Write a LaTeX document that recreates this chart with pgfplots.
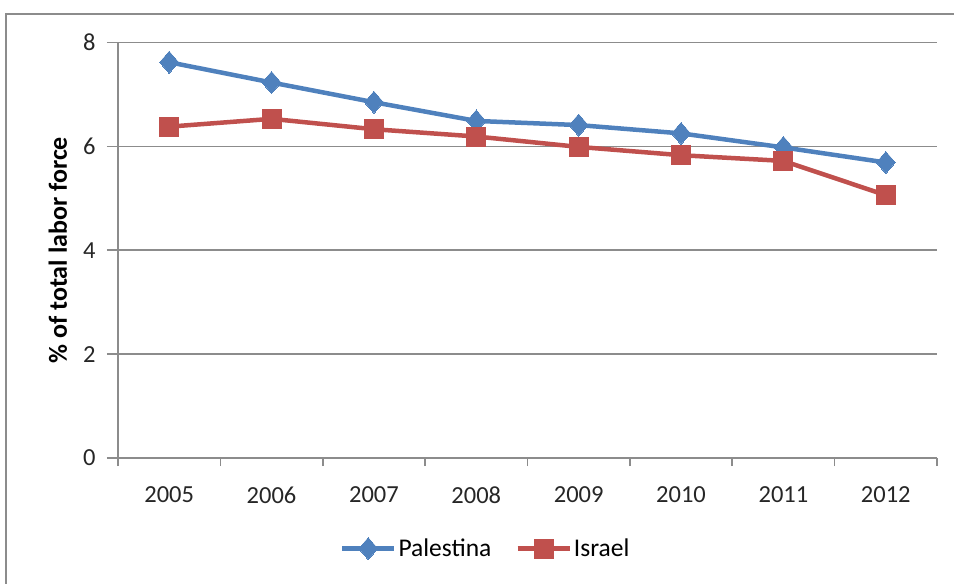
\documentclass[border=0pt]{standalone}
\usepackage{pgfplots}
\pgfplotsset{compat=1.18}
\usepackage{fontspec}
\setmainfont{Carlito}
\definecolor{pblue}{HTML}{4F81BD}
\definecolor{ired}{HTML}{C0504D}
\definecolor{gridgray}{HTML}{8C8C8C}
\begin{document}
\begin{tikzpicture}[x=1pt,y=1pt]
\useasboundingbox (0,0) rectangle (954,584);
\draw[gridgray, line width=1.6pt] (6,0) -- (6,570) -- (954,570);
\begin{axis}[
  at={(118pt,126pt)}, anchor=south west,
  scale only axis, width=819pt, height=415.5pt,
  xmin=-0.5, xmax=7.5, ymin=0, ymax=8,
  xtick={0,...,7},
  xticklabels={2005,2006,2007,2008,2009,2010,2011,2012},
  minor xtick={-0.5,0.5,...,7.5},
  ytick={0,2,4,6,8},
  axis x line=bottom, axis y line=left,
  axis line style={gridgray, line width=1.6pt, -},
  tick align=outside,
  major tick length=11pt, minor tick length=8pt,
  major x tick style={draw=none},
  minor x tick style={gridgray, line width=1.6pt},
  major y tick style={gridgray, line width=1.6pt},
  ymajorgrids, grid style={gridgray, line width=1.6pt},
  /pgf/number format/assume math mode=true,
  tick label style={font=\fontsize{24.5}{28}\selectfont, text=black!85},
  xticklabel style={yshift=-14pt},
  yticklabel style={xshift=-8pt},
  ylabel={\% of total labor force},
  every axis y label/.style={at={(axis description cs:-0.0733,0.5)}, rotate=90, anchor=center,
    font=\fontsize{26}{30}\selectfont\bfseries},
  legend style={at={(axis description cs:0.449,-0.218)}, anchor=center, draw=none, fill=none,
    font=\fontsize{25.5}{30}\selectfont, legend columns=2,
    /tikz/every even column/.append style={column sep=22pt}},
  legend image code/.code={\draw[#1, mark repeat=2, mark phase=2] plot coordinates {(0pt,0pt) (26pt,0pt) (52pt,0pt)};},
  clip=false,
]
\addplot[pblue, line width=4.5pt, mark=diamond*, mark size=11pt, mark options={xscale=1.15, line width=0pt}]
  coordinates {(0,7.62) (1,7.23) (2,6.85) (3,6.49) (4,6.41) (5,6.25) (6,5.98) (7,5.69)};
\addlegendentry{Palestina}
\addplot[ired, line width=4.5pt, mark=square*, mark size=9.5pt, mark options={line width=0pt}]
  coordinates {(0,6.38) (1,6.53) (2,6.33) (3,6.19) (4,5.99) (5,5.83) (6,5.72) (7,5.06)};
\addlegendentry{Israel}
\end{axis}
\end{tikzpicture}
\end{document}
